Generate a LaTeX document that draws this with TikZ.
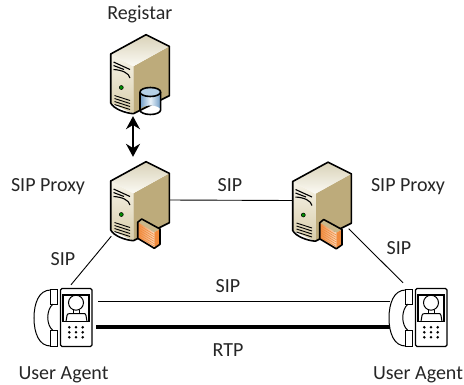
\documentclass[tikz,border=0pt]{standalone}
\usepackage{fontspec}
\setmainfont{Carlito}
\usetikzlibrary{arrows.meta}
\definecolor{side}{HTML}{BDAB7B}
\definecolor{frontA}{HTML}{F6F3E8}
\definecolor{frontB}{HTML}{D8CDAA}
\definecolor{topA}{HTML}{FBFAF4}
\definecolor{topB}{HTML}{D9D2B8}
\definecolor{fwA}{HTML}{F08A3C}
\definecolor{fwB}{HTML}{FBD9BC}
\definecolor{fwT}{HTML}{C9B78A}
\definecolor{cylA}{HTML}{6F9CC6}
\definecolor{cylB}{HTML}{EAF3FA}
\definecolor{cylT}{HTML}{B5D0E6}
\tikzset{
 x=1pt,y=-1pt,
 hold/.style={minimum width=59pt,minimum height=80pt,inner sep=0pt},
 phonebox/.style={minimum width=58pt,minimum height=58pt,inner sep=0pt},
 lab/.style={font=\fontsize{20}{22}\selectfont,text=black!85,inner sep=0pt,anchor=base},
 lnk/.style={line width=0.9pt,black},
 outline/.style={line width=1.6pt,line join=round,black},
 srv/.pic={
  \fill[side] (-6.7,-6.7) -- (29.3,-26.7) -- (29.3,22.7) -- (-6.7,40.7) -- cycle;
  \shade[top color=frontA,bottom color=frontB] (-29.3,-19) -- (-6.7,-6.7) -- (-6.7,40.7) -- (-29.3,30) -- cycle;
  \shade[top color=topB,bottom color=topA] (-29.3,-19) -- (6,-38.3) -- (29.3,-26.7) -- (-6.7,-6.7) -- cycle;
  \draw[outline] (-29.3,-19) -- (6,-38.3) -- (29.3,-26.7) -- (29.3,22.7) -- (-6.7,40.7) .. controls (-15,40) and (-26,36) .. (-29.3,30) -- cycle;
  \draw[line width=1.1pt] (-26.5,-11) -- (-10,-3.5);
  \draw[line width=1.1pt] (-26.5,-7.5) -- (-16,-3.5);
  \draw[line width=1.1pt] (-26.5,-3.5) .. controls (-18,-3) and (-11,0) .. (-10,5);
  \draw[fill=green!55!black,line width=0.5pt] (-18.7,14.5) circle (2pt);
  \foreach \k in {0,1,2,3}{\draw[line width=0.9pt] (-25.5,22.5+3*\k) -- (-10,27.5+3*\k);}
 },
 fw/.pic={
  \fill[fwT] (1.7,19) -- (20,29) -- (14.3,32.3) -- (-2.3,22.3) -- cycle;
  \shade[left color=fwA,right color=fwB] (-2.3,22.3) -- (14.3,32.3) -- (14.3,48.3) -- (-2.3,38.3) -- cycle;
  \fill[fwA] (14.3,32.3) -- (20,29) -- (20,44.3) -- (14.3,48.3) -- cycle;
  \foreach \k in {1,...,6}{\draw[fwA,line width=0.5pt] (-2.3,22.3+2.3*\k) -- (14.3,32.3+2.3*\k);}
  \draw[outline] (1.7,19) -- (20,29) -- (20,44.3) -- (14.3,48.3) -- (-2.3,38.3) -- (-2.3,22.3) -- cycle;
 },
 cyl/.pic={
  \shade[left color=cylA,right color=cylA,middle color=cylB] (0,19) -- (0,37) arc[start angle=180,end angle=360,x radius=10.3,y radius=4.5] -- (20.6,19) -- cycle;
  \draw[outline,fill=cylT] (0,19) arc[start angle=180,end angle=-180,x radius=10.3,y radius=4.5];
  \draw[outline] (0,19) -- (0,37) arc[start angle=180,end angle=360,x radius=10.3,y radius=-4.5] -- (20.6,19);
 },
 phone/.pic={
  \draw[line width=1pt,fill=white] (16.5,1.5) rectangle (23,16);
  \draw[line width=1pt,fill=white] (16.5,42.5) rectangle (23,58.5);
  \draw[line width=1pt] (16.5,2) .. controls (5,2) and (0,15) .. (0,30) .. controls (0,45) and (5,58) .. (16.5,58);
  \draw[line width=1pt] (19,16) .. controls (12,22) and (12,37) .. (19,42.5);
  \draw[line width=1.1pt,fill=white,rounded corners=1.5pt] (26.5,0.5) rectangle (58,58.5);
  \draw[line width=1.3pt] (29,7) rectangle (55,33.5);
  \draw[line width=1pt] (42,14.7) circle (7.5pt);
  \draw[line width=1pt] (32,33.5) -- (33,27.5) .. controls (33.3,26) and (34,25.5) .. (36,25.5) -- (50,25.5) .. controls (51,25.5) and (51.7,26) .. (52,27.5) -- (53,33.5);
  \draw[line width=1pt] (39,22) -- (39,25.5) (45,22) -- (45,25.5);
  \foreach \a in {35.3,42,48.7}\foreach \b in {39.3,44.3,49.3}{\fill (\a,\b) circle (1.4pt);}
 }
}
\begin{document}
\begin{tikzpicture}
\useasboundingbox (0,0) rectangle (464,384);
\node[hold] (reg) at (140,73) {};
\node[hold] (pa) at (140,200) {};
\node[hold] (pb) at (322,200.5) {};
\node[phonebox] (ua) at (63,317) {};
\node[phonebox] (ub) at (418,317) {};
\pic at (reg) {srv};
\pic at (reg) {cyl};
\pic at (pa) {srv};
\pic at (pa) {fw};
\pic at (pb) {srv};
\pic at (pb) {fw};
\pic at (34,288) {phone};
\pic at (389,288) {phone};
\draw[lnk] (pa.east) -- (pb.west);
\draw[lnk] ([shift={(1,-4)}]pa.south west) -- ([shift={(8,-3)}]ua.north);
\draw[lnk] ([shift={(-3,-12)}]pb.south east) -- ([shift={(-15,-5)}]ub.north);
\draw[lnk] ([shift={(6,-15.5)}]ua.east) -- ([shift={(1,-15.5)}]ub.west);
\draw[line width=4.8pt] ([shift={(4,10)}]ua.east) -- ([shift={(1,10)}]ub.west);
\draw[line width=1.5pt,{Stealth[length=13pt,width=14pt]}-{Stealth[length=13pt,width=14pt]},shorten <=3pt,shorten >=3pt] ([xshift=-7pt]reg.south) -- ([xshift=-7pt]pa.north);
\node[lab] at (139.8,19) {Registar};
\node[lab] at (48,191.7) {SIP Proxy};
\node[lab] at (408,191.7) {SIP Proxy};
\node[lab] at (230,191.7) {SIP};
\node[lab] at (63,265) {SIP};
\node[lab] at (399,254) {SIP};
\node[lab] at (228,292) {SIP};
\node[lab] at (228,356) {RTP};
\node[lab] at (63.5,379.3) {User Agent};
\node[lab] at (418,379.3) {User Agent};
\end{tikzpicture}
\end{document}
